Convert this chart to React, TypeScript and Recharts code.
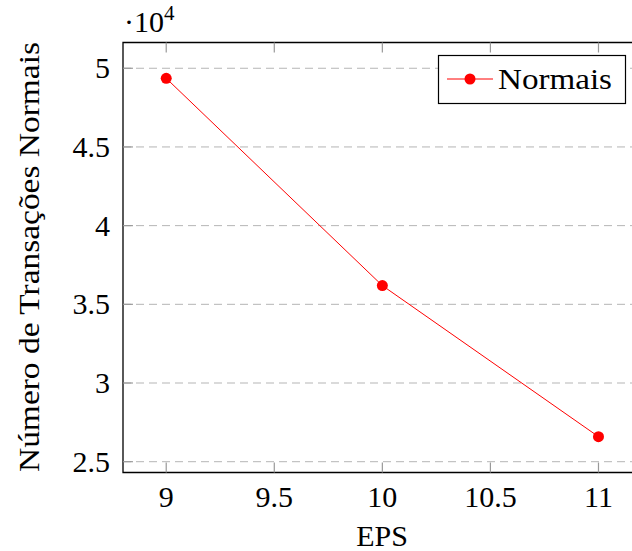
import React from "react";
import { LineChart, Line, XAxis, YAxis, CartesianGrid, ReferenceArea, ReferenceLine } from "recharts";

const eps = [9, 10, 11];
const normais = [49360, 36190, 26590];
const xTicks = [9, 9.5, 10, 10.5, 11];
const yTicks = [25000, 30000, 35000, 40000, 45000, 50000];

const X_MIN = 8.8;
const X_MAX = 11.2;
const Y_MIN = 24313;
const Y_MAX = 51637;

const data = eps.map((e, i) => ({ eps: e, normais: normais[i] }));

const FONT = "Times New Roman";
const TICK_GRAY = "#999999";

function XTick(props: any) {
  const { x, y, payload } = props;
  return (
    <text x={x} y={y + 34.5} textAnchor="middle" fontFamily={FONT} fontSize={30} fill="#000">
      {payload.value}
    </text>
  );
}

function YTick(props: any) {
  const { x, y, payload } = props;
  return (
    <text x={x - 13} y={y + 10} textAnchor="end" fontFamily={FONT} fontSize={30} fill="#000">
      {String(payload.value / 10000)}
    </text>
  );
}

export default function App() {
  // inward tick length in data units (~10px)
  const yTickLen = 635;
  const xTickLen = 0.046;

  return (
    <div style={{ position: "relative", width: 632, height: 551, overflow: "hidden", background: "#fff", fontFamily: "serif" }}>
      <style>{"body{margin:0}"}</style>
      <LineChart width={660} height={551} data={data} margin={{ top: 42.5, right: 18.3, bottom: 48.5, left: 63 }}>
        <CartesianGrid vertical={false} stroke="#b5b5b5" strokeDasharray="8 5" />
        <XAxis
          dataKey="eps"
          type="number"
          domain={[X_MIN, X_MAX]}
          ticks={xTicks}
          allowDataOverflow
          axisLine={false}
          tickLine={false}
          tickSize={0}
          tickMargin={0}
          height={30}
          tick={<XTick />}
        />
        <YAxis
          type="number"
          domain={[Y_MIN, Y_MAX]}
          ticks={yTicks}
          allowDataOverflow
          axisLine={false}
          tickLine={false}
          tickSize={0}
          tickMargin={0}
          width={60}
          tick={<YTick />}
        />
        {xTicks.map((t) => (
          <ReferenceLine key={"xb" + t} segment={[{ x: t, y: Y_MIN }, { x: t, y: Y_MIN + yTickLen }]} stroke={TICK_GRAY} strokeWidth={1.2} />
        ))}
        {xTicks.map((t) => (
          <ReferenceLine key={"xt" + t} segment={[{ x: t, y: Y_MAX }, { x: t, y: Y_MAX - yTickLen }]} stroke={TICK_GRAY} strokeWidth={1.2} />
        ))}
        {yTicks.map((t) => (
          <ReferenceLine key={"yl" + t} segment={[{ x: X_MIN, y: t }, { x: X_MIN + xTickLen, y: t }]} stroke={TICK_GRAY} strokeWidth={1.2} />
        ))}
        <ReferenceArea x1={X_MIN} x2={X_MAX} y1={Y_MIN} y2={Y_MAX} fill="none" fillOpacity={0} stroke="#000" strokeWidth={1.3} />
        <Line
          dataKey="normais"
          stroke="#ff0000"
          strokeWidth={1}
          dot={{ r: 5.5, fill: "#ff0000", stroke: "none" }}
          isAnimationActive={false}
        />
      </LineChart>

      <svg width={632} height={551} style={{ position: "absolute", left: 0, top: 0, pointerEvents: "none" }}>
        {/* axis multiplier */}
        <text x={124} y={32} fontFamily={FONT} fontSize={30} fill="#000">
          ·10
          <tspan fontSize={21} dy={-12}>4</tspan>
        </text>
        {/* y axis title */}
        <text
          x={38.5}
          y={257}
          transform="rotate(-90 38.5 257)"
          textAnchor="middle"
          fontFamily={FONT}
          fontSize={30}
          fill="#000"
          textLength={430}
          lengthAdjust="spacingAndGlyphs"
        >
          Número de Transações Normais
        </text>
        {/* x axis title */}
        <text x={382} y={546} textAnchor="middle" fontFamily={FONT} fontSize={30} fill="#000">
          EPS
        </text>
        {/* legend */}
        <rect x={438.5} y={55.5} width={187} height={48} fill="#fff" stroke="#000" strokeWidth={1.2} />
        <line x1={447} y1={79} x2={493} y2={79} stroke="#ff0000" strokeWidth={1} />
        <circle cx={470} cy={79} r={5.5} fill="#ff0000" />
        <text x={498} y={89} fontFamily={FONT} fontSize={30} fill="#000" textLength={114} lengthAdjust="spacingAndGlyphs">
          Normais
        </text>
      </svg>
    </div>
  );
}
